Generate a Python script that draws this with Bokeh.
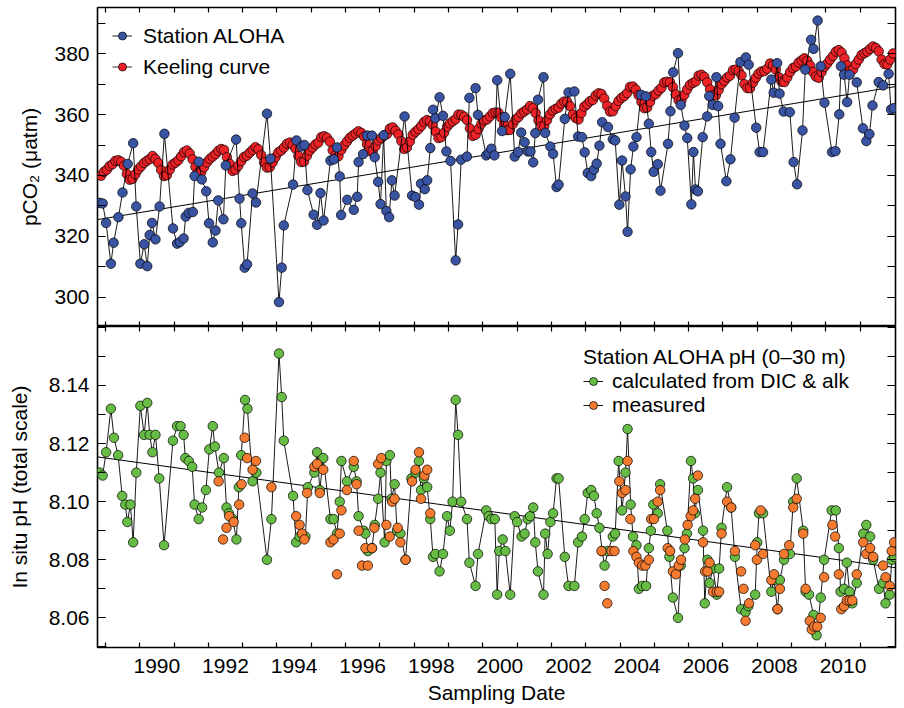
from bokeh.plotting import figure
from bokeh.models import (Range1d, FixedTicker, LinearAxis, Legend, LegendItem,
                          Slope, ColumnDataSource, PrintfTickFormatter)
from bokeh.layouts import column
from bokeh.embed import file_html
from bokeh.resources import INLINE

FONT = "Liberation Sans"
FS = "21px"

# ---------------- axis ticks / labels ----------------
year_ticks = list(range(1989, 2012))
label_years = list(range(1990, 2011, 2))
pco2_label_ticks = [300, 320, 340, 360, 380]
pco2_minor_ticks = [290, 300, 310, 320, 330, 340, 350, 360, 370, 380, 390]
ph_label_ticks = [8.06, 8.08, 8.10, 8.12, 8.14]
ph_minor_ticks = [8.05, 8.06, 8.07, 8.08, 8.09, 8.10, 8.11, 8.12, 8.13, 8.14, 8.15, 8.16]

# ---------------- Station ALOHA pCO2 ----------------
aloha_date = [
    1988.83, 1988.92, 1989.02, 1989.16, 1989.24, 1989.38, 1989.50, 1989.65, 1989.81, 1989.90,
    1990.02, 1990.13, 1990.22, 1990.29, 1990.36, 1990.46, 1990.58, 1990.72, 1990.97,
    1991.09, 1991.17, 1991.28, 1991.34, 1991.43, 1991.55, 1991.60, 1991.72, 1991.81, 1991.94,
    1992.02, 1992.13, 1992.21, 1992.29, 1992.44, 1992.51, 1992.81, 1992.91, 1992.96,
    1993.06, 1993.13, 1993.29, 1993.39, 1993.71, 1993.81,
    1994.06, 1994.14, 1994.20, 1994.47, 1994.57, 1994.72, 1994.80, 1994.89,
    1995.07, 1995.17, 1995.27, 1995.36, 1995.56, 1995.66, 1995.75, 1995.83, 1995.87,
    1996.05, 1996.24, 1996.34, 1996.38, 1996.51, 1996.63, 1996.77, 1996.85, 1996.95,
    1997.02, 1997.11, 1997.19, 1997.27, 1997.35, 1997.43, 1997.72, 1997.94,
    1998.04, 1998.14, 1998.20, 1998.31, 1998.38, 1998.47, 1998.55, 1998.62, 1998.74, 1998.84, 1998.94,
    1999.06, 1999.21, 1999.28, 1999.37, 1999.54, 1999.61, 1999.79, 1999.86,
    2000.10, 2000.17, 2000.25, 2000.34, 2000.42, 2000.56, 2000.64, 2000.80, 2000.93,
    2001.03, 2001.12, 2001.22, 2001.31, 2001.39, 2001.47, 2001.53, 2001.61, 2001.77, 2001.82, 2001.97,
    2002.05, 2002.15, 2002.21, 2002.39, 2002.50, 2002.67, 2002.78, 2002.89, 2002.97,
    2003.06, 2003.16, 2003.24, 2003.32, 2003.40, 2003.48, 2003.65, 2003.79, 2003.86, 2003.98,
    2004.06, 2004.16, 2004.22, 2004.31, 2004.39, 2004.48, 2004.61, 2004.75, 2004.84, 2004.91, 2004.98,
    2005.10, 2005.18, 2005.40, 2005.47, 2005.55, 2005.69, 2005.77, 2005.88, 2005.96,
    2006.08, 2006.14, 2006.20, 2006.27, 2006.41, 2006.54, 2006.60, 2006.70, 2006.81, 2006.86, 2006.93,
    2007.10, 2007.22, 2007.34, 2007.51, 2007.67, 2007.75, 2007.97,
    2008.07, 2008.17, 2008.41, 2008.48, 2008.58, 2008.65, 2008.77, 2008.95,
    2009.06, 2009.16, 2009.32, 2009.40, 2009.57, 2009.64, 2009.76, 2009.85, 2009.96,
    2010.18, 2010.28, 2010.39, 2010.44, 2010.53, 2010.62, 2010.69, 2010.90,
    2011.08, 2011.18, 2011.27, 2011.36, 2011.54, 2011.67, 2011.83, 2011.90, 2011.98,
]
aloha_pco2 = [
    331.0, 330.8, 324.4, 311.0, 317.9, 326.3, 334.4, 343.8, 350.6, 329.8,
    311.0, 317.4, 310.2, 320.4, 324.4, 319.0, 329.8, 353.7, 322.6,
    317.6, 318.1, 319.3, 326.5, 327.7, 328.0, 339.8, 344.5, 338.7, 334.8,
    324.3, 318.0, 321.9, 331.8, 325.6, 343.3, 351.8, 332.4, 324.3,
    309.7, 310.8, 334.1, 331.1, 360.3, 345.5,
    298.4, 309.7, 323.6, 337.0, 351.5, 349.5, 350.0, 335.2,
    327.1, 323.8, 334.2, 325.2, 344.9, 345.3, 349.2, 339.7, 327.0,
    332.0, 328.7, 333.0, 344.4, 347.0, 353.1, 353.1, 346.0, 337.9,
    330.6, 353.2, 328.3, 326.3, 338.4, 333.4, 359.4, 333.4,
    332.9, 330.4, 337.3, 335.5, 338.4, 349.0, 361.6, 358.8, 365.7, 359.6, 347.9,
    344.8, 312.1, 323.9, 345.2, 346.2, 365.5, 368.7, 359.9,
    346.6, 347.3, 348.8, 346.6, 371.3, 354.6, 359.2, 373.4, 346.2,
    347.7, 354.1, 350.9, 347.9, 347.9, 344.3, 353.9, 364.9, 372.3, 354.0, 349.5,
    347.1, 336.2, 337.0, 358.6, 367.3, 367.6, 352.8, 352.6, 347.6,
    340.8, 339.8, 341.9, 343.9, 349.8, 357.5, 355.9, 351.9, 351.5, 330.4,
    344.9, 333.1, 321.5, 342.0, 349.5, 352.6, 366.5, 366.0, 357.0, 347.7, 341.2,
    343.7, 335.0, 350.4, 361.1, 373.9, 380.2, 363.2, 356.4, 352.3,
    330.5, 347.7, 335.4, 334.8, 352.6, 359.4, 366.1, 363.2, 372.3, 362.8, 350.4,
    338.1, 345.3, 359.0, 377.3, 378.8, 376.4, 355.7,
    347.7, 347.7, 371.5, 367.2, 376.9, 366.9, 361.0, 360.8,
    344.4, 337.1, 354.8, 374.8, 384.6, 381.6, 390.9, 375.9, 363.9,
    347.7, 348.0, 360.1, 375.9, 373.1, 364.1, 373.1, 370.6,
    355.5, 351.3, 353.6, 363.0, 370.7, 369.6, 373.4, 361.7, 362.1,
]

# ---------------- Keeling curve (monthly, from Nov 1988) ----------------
keeling_first_year = 1988
keeling_first_month = 11
keeling_pco2 = [
    339.9, 341.2,
    341.9, 343.1, 343.7, 344.8, 345.0, 344.5, 343.2, 340.5, 338.6, 338.9, 340.4, 342.0,
    343.0, 344.1, 344.8, 345.4, 346.4, 345.4, 344.1, 341.8, 339.8, 340.1, 341.9, 343.6,
    344.2, 345.0, 346.3, 347.7, 348.2, 347.2, 345.3, 342.8, 341.0, 341.0, 342.7, 344.3,
    345.4, 346.2, 347.0, 348.1, 348.7, 348.4, 346.0, 343.8, 341.5, 341.9, 343.2, 344.7,
    346.1, 346.5, 347.5, 348.4, 349.3, 348.6, 346.7, 344.3, 342.6, 342.7, 344.3, 346.0,
    347.6, 348.2, 349.2, 350.4, 350.8, 350.1, 348.8, 346.4, 344.4, 344.6, 346.5, 348.2,
    349.2, 350.2, 350.8, 352.6, 352.9, 352.4, 351.1, 348.3, 346.6, 346.3, 348.4, 349.9,
    351.2, 352.4, 353.1, 353.8, 354.5, 354.0, 352.8, 350.3, 348.0, 348.1, 349.6, 351.5,
    352.3, 353.1, 353.6, 355.4, 355.8, 354.7, 353.5, 351.3, 348.7, 349.2, 351.2, 353.4,
    354.4, 355.2, 356.3, 357.6, 358.2, 357.8, 356.6, 354.4, 352.3, 352.6, 354.1, 356.0,
    357.1, 357.8, 358.5, 360.0, 359.9, 359.3, 358.2, 355.5, 353.0, 353.4, 355.3, 357.0,
    358.1, 358.4, 359.4, 360.5, 360.7, 360.6, 359.0, 356.7, 354.9, 355.0, 356.9, 358.4,
    359.2, 360.4, 361.0, 361.7, 362.8, 362.1, 360.5, 358.1, 356.2, 356.3, 358.2, 360.1,
    361.3, 361.9, 362.3, 363.6, 364.3, 364.2, 362.8, 360.0, 358.9, 358.4, 360.5, 362.6,
    363.4, 364.4, 364.8, 366.3, 367.0, 366.8, 365.3, 362.9, 361.0, 361.1, 362.8, 364.5,
    365.5, 366.1, 367.1, 369.1, 369.2, 368.2, 366.4, 364.2, 362.1, 362.3, 364.2, 366.2,
    366.7, 367.9, 368.8, 370.6, 370.8, 370.6, 369.0, 366.6, 364.7, 364.8, 366.5, 368.3,
    369.8, 370.4, 370.9, 372.8, 373.1, 372.4, 370.6, 368.3, 366.4, 366.3, 368.1, 370.0,
    371.1, 372.2, 372.8, 374.6, 374.8, 374.3, 372.9, 370.0, 368.7, 368.7, 370.5, 372.1,
    373.5, 374.2, 374.3, 375.1, 376.8, 376.2, 374.8, 372.3, 370.8, 370.7, 372.2, 374.0,
    375.3, 375.8, 377.1, 377.8, 378.5, 377.7, 376.1, 374.0, 372.5, 372.1, 374.0, 375.7,
    376.8, 378.1, 379.3, 380.7, 381.2, 380.4, 378.5, 376.2, 374.4, 374.8, 376.6, 378.1,
    379.6, 380.2, 380.7, 381.6, 382.4, 381.9, 380.8, 378.1, 376.6, 376.5, 378.1, 380.1,
]
keeling_date = []
_y, _m = keeling_first_year, keeling_first_month
for _ in keeling_pco2:
    keeling_date.append(_y + (_m - 0.5) / 12.0)
    _m += 1
    if _m > 12:
        _m, _y = 1, _y + 1

# ---------------- pH calculated from DIC & alk ----------------
ph_calc_date = [
    1988.83, 1988.92, 1989.02, 1989.16, 1989.25, 1989.37, 1989.49, 1989.58, 1989.64, 1989.73, 1989.81, 1989.90,
    1990.02, 1990.13, 1990.22, 1990.29, 1990.37, 1990.46, 1990.57, 1990.71, 1990.97,
    1991.09, 1991.19, 1991.28, 1991.33, 1991.43, 1991.53, 1991.60, 1991.72, 1991.82, 1991.93,
    1992.03, 1992.13, 1992.19, 1992.31, 1992.45, 1992.53, 1992.60, 1992.71, 1992.82, 1992.89, 1992.96,
    1993.07, 1993.14, 1993.29, 1993.40, 1993.71, 1993.84,
    1994.06, 1994.14, 1994.20, 1994.47, 1994.56, 1994.66, 1994.83, 1994.90,
    1995.09, 1995.17, 1995.25, 1995.35, 1995.56, 1995.65, 1995.75, 1995.83, 1995.88,
    1996.04, 1996.24, 1996.32, 1996.38, 1996.53, 1996.58, 1996.65, 1996.77, 1996.85, 1996.95,
    1997.02, 1997.14, 1997.19, 1997.29, 1997.34, 1997.43, 1997.50, 1997.60, 1997.75, 1997.92,
    1998.04, 1998.14, 1998.20, 1998.28, 1998.38, 1998.47, 1998.55, 1998.62, 1998.74, 1998.84, 1998.96,
    1999.04, 1999.12, 1999.21, 1999.28, 1999.37, 1999.54, 1999.61, 1999.79, 1999.86,
    2000.10, 2000.17, 2000.25, 2000.35, 2000.42, 2000.48, 2000.58, 2000.66, 2000.80, 2000.93,
    2001.00, 2001.13, 2001.22, 2001.31, 2001.38, 2001.47, 2001.53, 2001.61, 2001.77, 2001.82, 2001.89, 2001.97,
    2002.05, 2002.15, 2002.21, 2002.39, 2002.50, 2002.67, 2002.78, 2002.89, 2002.97,
    2003.06, 2003.16, 2003.24, 2003.32, 2003.40, 2003.48, 2003.55, 2003.65, 2003.79, 2003.86, 2003.96,
    2004.06, 2004.16, 2004.22, 2004.31, 2004.38, 2004.48, 2004.55, 2004.65, 2004.76, 2004.84, 2004.90, 2004.97,
    2005.10, 2005.17, 2005.38, 2005.44, 2005.54, 2005.69, 2005.77, 2005.88, 2005.95,
    2006.07, 2006.13, 2006.18, 2006.27, 2006.42, 2006.47, 2006.55, 2006.61, 2006.71, 2006.82, 2006.89, 2006.96,
    2007.12, 2007.24, 2007.35, 2007.53, 2007.66, 2007.74, 2007.94,
    2008.00, 2008.05, 2008.17, 2008.41, 2008.49, 2008.59, 2008.66, 2008.78, 2008.95,
    2009.05, 2009.15, 2009.34, 2009.41, 2009.51, 2009.64, 2009.73, 2009.85, 2009.95,
    2010.17, 2010.29, 2010.38, 2010.43, 2010.53, 2010.61, 2010.69, 2010.77, 2010.90,
    2011.09, 2011.18, 2011.29, 2011.38, 2011.55, 2011.67, 2011.74, 2011.86, 2011.92, 2011.99,
]
ph_calc = [
    8.110, 8.109, 8.117, 8.132, 8.122, 8.116, 8.102, 8.099, 8.093, 8.099, 8.086, 8.110,
    8.133, 8.123, 8.134, 8.123, 8.117, 8.123, 8.108, 8.085, 8.121,
    8.126, 8.126, 8.123, 8.115, 8.114, 8.112, 8.099, 8.094, 8.098, 8.104,
    8.118, 8.126, 8.119, 8.110, 8.115, 8.098, 8.096, 8.094, 8.087, 8.105, 8.116,
    8.135, 8.132, 8.107, 8.110, 8.080, 8.094,
    8.151, 8.136, 8.121, 8.102, 8.086, 8.088, 8.088, 8.105,
    8.110, 8.117, 8.104, 8.115, 8.094, 8.094, 8.089, 8.100, 8.114,
    8.107, 8.112, 8.107, 8.095, 8.090, 8.089, 8.083, 8.084, 8.092, 8.101,
    8.110, 8.086, 8.114, 8.116, 8.101, 8.106, 8.090, 8.089, 8.080, 8.108,
    8.110, 8.114, 8.104, 8.108, 8.105, 8.094, 8.081, 8.082, 8.076, 8.082, 8.095,
    8.090, 8.100, 8.135, 8.123, 8.100, 8.094, 8.079, 8.071, 8.082,
    8.097, 8.095, 8.094, 8.094, 8.068, 8.083, 8.087, 8.083, 8.068, 8.095,
    8.093, 8.088, 8.089, 8.094, 8.095, 8.098, 8.086, 8.076, 8.068, 8.089, 8.082, 8.093,
    8.096, 8.108, 8.108, 8.081, 8.071, 8.071, 8.086, 8.088, 8.094,
    8.103, 8.104, 8.102, 8.096, 8.091, 8.083, 8.078, 8.083, 8.088, 8.089, 8.114,
    8.097, 8.110, 8.125, 8.099, 8.088, 8.085, 8.070, 8.071, 8.071, 8.084, 8.090, 8.099,
    8.096, 8.106, 8.090, 8.081, 8.067, 8.060, 8.078, 8.084, 8.089,
    8.114, 8.108, 8.096, 8.104, 8.090, 8.065, 8.080, 8.072, 8.077, 8.068, 8.077, 8.091,
    8.105, 8.098, 8.081, 8.063, 8.062, 8.064, 8.068,
    8.086, 8.096, 8.096, 8.069, 8.073, 8.063, 8.073, 8.080, 8.082,
    8.100, 8.108, 8.090, 8.069, 8.068, 8.061, 8.054, 8.067, 8.080,
    8.097, 8.097, 8.084, 8.069, 8.070, 8.079, 8.069, 8.065, 8.072,
    8.089, 8.092, 8.088, 8.080, 8.070, 8.072, 8.065, 8.068, 8.080, 8.081,
]

# ---------------- pH measured ----------------
ph_meas_date = [
    1992.30, 1992.43, 1992.53, 1992.61, 1992.74, 1992.90, 1992.97, 1993.06, 1993.13, 1993.29, 1993.39, 1993.84,
    1994.56, 1994.66, 1994.73, 1994.80, 1994.88,
    1995.09, 1995.17, 1995.25, 1995.35, 1995.56, 1995.65, 1995.75, 1995.83, 1995.88,
    1996.04, 1996.24, 1996.32, 1996.38, 1996.48, 1996.58, 1996.65, 1996.77, 1996.84, 1996.95,
    1997.04, 1997.19, 1997.29, 1997.36, 1997.43, 1997.52, 1997.60, 1997.75, 1997.94,
    1998.04, 1998.14, 1998.20, 1998.30, 1998.38, 1998.47,
    2003.46, 2003.55, 2003.63, 2003.75, 2003.84, 2003.98,
    2004.06, 2004.16, 2004.22, 2004.30, 2004.39, 2004.48, 2004.55, 2004.65, 2004.74, 2004.84, 2004.91, 2004.99,
    2005.10, 2005.17, 2005.39, 2005.46, 2005.54, 2005.63, 2005.71, 2005.78, 2005.89, 2005.97,
    2006.06, 2006.13, 2006.19, 2006.27, 2006.42, 2006.48, 2006.55, 2006.61, 2006.71, 2006.82, 2006.89, 2006.96,
    2007.12, 2007.24, 2007.35, 2007.53, 2007.60, 2007.66, 2007.76, 2007.94, 2007.99,
    2008.10, 2008.17, 2008.41, 2008.49, 2008.59, 2008.66, 2008.78, 2008.93,
    2009.05, 2009.15, 2009.34, 2009.41, 2009.53, 2009.59, 2009.66, 2009.75, 2009.85, 2009.95,
    2010.19, 2010.27, 2010.38, 2010.45, 2010.53, 2010.61, 2010.69, 2010.77, 2010.90,
    2011.09, 2011.18, 2011.29, 2011.38, 2011.67, 2011.74, 2011.86, 2011.92, 2011.99,
]
ph_meas = [
    8.107, 8.087, 8.091, 8.095, 8.093, 8.099, 8.106, 8.122, 8.115, 8.111, 8.114, 8.105,
    8.095, 8.092, 8.089, 8.087, 8.103,
    8.112, 8.113, 8.103, 8.111, 8.086, 8.087, 8.075, 8.089, 8.097,
    8.104, 8.114, 8.106, 8.090, 8.078, 8.084, 8.078, 8.084, 8.091, 8.113,
    8.115, 8.092, 8.088, 8.100, 8.101, 8.091, 8.086, 8.080, 8.107,
    8.111, 8.117, 8.101, 8.109, 8.111, 8.096,
    8.083, 8.071, 8.065, 8.083, 8.083, 8.107,
    8.103, 8.104, 8.114, 8.094, 8.083, 8.081, 8.079, 8.078, 8.078, 8.080, 8.094, 8.094,
    8.100, 8.104, 8.084, 8.083, 8.076, 8.075, 8.078, 8.080, 8.087, 8.092,
    8.095, 8.097, 8.101, 8.109, 8.086, 8.076, 8.076, 8.079, 8.069, 8.069, 8.069, 8.089,
    8.100, 8.098, 8.083, 8.076, 8.070, 8.059, 8.065, 8.085, 8.080,
    8.097, 8.082, 8.073, 8.075, 8.063, 8.070, 8.082, 8.085,
    8.098, 8.101, 8.089, 8.070, 8.059, 8.056, 8.057, 8.057, 8.060, 8.074,
    8.092, 8.088, 8.075, 8.063, 8.064, 8.066, 8.066, 8.066, 8.075,
    8.086, 8.082, 8.084, 8.081, 8.078, 8.074, 8.071, 8.083, 8.086,
]

# ---------------- linear trends (value at 2000.0, slope per year) ----------------
pco2_trend = (346.6, 1.88)
ph_trend = (8.097, -0.00164)

# ---------------- styling constants ----------------
C_BLUE = "#3A54A4"
C_RED = "#EC2227"
C_GREEN = "#67BC45"
C_ORANGE = "#F47A30"
MSIZE = 9.5

x_range = Range1d(1988.77, 2012.03)


def style_fig(p, yticks, yminor, yfmt, show_xlabels, ylabel, label_standoff):
    p.xgrid.visible = False
    p.ygrid.visible = False
    p.outline_line_color = "black"
    p.outline_line_width = 1.6
    p.background_fill_color = "white"
    p.border_fill_color = "white"

    xt = FixedTicker(ticks=[y + 0.5 for y in label_years], minor_ticks=year_ticks)
    yt = FixedTicker(ticks=yticks, minor_ticks=yminor)

    # bottom x axis
    xa = p.xaxis[0]
    xa.ticker = xt
    xa.axis_line_color = None
    xa.major_tick_in = 0
    xa.major_tick_out = 0
    xa.minor_tick_in = 5
    xa.minor_tick_out = 0
    xa.minor_tick_line_color = "black"
    xa.minor_tick_line_width = 1.2
    if show_xlabels:
        xa.major_label_overrides = {y + 0.5: str(y) for y in label_years}
        xa.major_label_text_font = FONT
        xa.major_label_text_font_size = FS
        xa.major_label_text_color = "black"
        xa.major_label_standoff = 11
        xa.axis_label = "Sampling Date"
        xa.axis_label_text_font = FONT
        xa.axis_label_text_font_size = FS
        xa.axis_label_text_font_style = "normal"
        xa.axis_label_text_color = "black"
        xa.axis_label_standoff = 5
    else:
        xa.major_label_text_font_size = "0px"
        xa.major_label_standoff = 0
        xa.major_label_overrides = {y + 0.5: "" for y in label_years}

    # left y axis
    ya = p.yaxis[0]
    ya.ticker = yt
    ya.formatter = PrintfTickFormatter(format=yfmt)
    ya.axis_line_color = None
    ya.major_tick_in = 8
    ya.major_tick_out = 0
    ya.minor_tick_in = 8
    ya.minor_tick_out = 0
    ya.major_tick_line_width = 1.2
    ya.minor_tick_line_width = 1.2
    ya.major_label_text_font = FONT
    ya.major_label_text_font_size = FS
    ya.major_label_text_color = "black"
    ya.major_label_standoff = 8
    ya.axis_label = ylabel
    ya.axis_label_text_font = FONT
    ya.axis_label_text_font_size = FS
    ya.axis_label_text_font_style = "normal"
    ya.axis_label_text_color = "black"
    ya.axis_label_standoff = label_standoff

    # mirrored tick-only axes (top and right)
    top = LinearAxis(ticker=FixedTicker(ticks=[y + 0.5 for y in label_years], minor_ticks=year_ticks),
                     axis_line_color=None, major_tick_in=0, major_tick_out=0,
                     minor_tick_in=5, minor_tick_out=0, minor_tick_line_width=1.2,
                     major_label_text_font_size="0px", major_label_standoff=0,
                     major_label_overrides={y + 0.5: "" for y in label_years})
    p.add_layout(top, "above")
    right = LinearAxis(ticker=FixedTicker(ticks=yticks, minor_ticks=yminor),
                       axis_line_color=None, major_tick_in=8, major_tick_out=0,
                       minor_tick_in=8, minor_tick_out=0,
                       major_tick_line_width=1.2, minor_tick_line_width=1.2,
                       major_label_text_font_size="0px", major_label_standoff=0,
                       major_label_overrides={t: "" for t in yticks})
    p.add_layout(right, "right")


# ================= top panel: pCO2 =================
p1 = figure(frame_width=798, frame_height=319, x_range=x_range,
            y_range=Range1d(290.37, 395.2), output_backend="svg",
            toolbar_location=None, min_border_left=97, min_border_right=3,
            min_border_top=7, min_border_bottom=0)
style_fig(p1, pco2_label_ticks, pco2_minor_ticks, "%d", False, "pCO₂ (μatm)", 10)

p1.add_layout(Slope(gradient=pco2_trend[1],
                    y_intercept=pco2_trend[0] - pco2_trend[1] * 2000.0,
                    line_color="black", line_width=1, level="underlay"))

src_k = ColumnDataSource(dict(x=keeling_date, y=keeling_pco2))
src_a = ColumnDataSource(dict(x=aloha_date, y=aloha_pco2))
k_line = p1.line("x", "y", source=src_k, line_color="black", line_width=0.8)
k_pts = p1.scatter("x", "y", source=src_k, marker="circle", size=MSIZE,
                   fill_color=C_RED, line_color="black", line_width=0.7)
a_line = p1.line("x", "y", source=src_a, line_color="black", line_width=0.9)
a_pts = p1.scatter("x", "y", source=src_a, marker="circle", size=MSIZE,
                   fill_color=C_BLUE, line_color="black", line_width=0.7)

leg1 = Legend(items=[LegendItem(label="Station ALOHA", renderers=[a_line, a_pts]),
                     LegendItem(label="Keeling curve", renderers=[k_line, k_pts])],
              location=(15, 247), margin=0, padding=6, spacing=6,
              glyph_width=20, glyph_height=25, label_height=25, label_standoff=11,
              label_text_font=FONT, label_text_font_size=FS, label_text_color="black",
              border_line_color=None, background_fill_alpha=0)
p1.add_layout(leg1)

# ================= bottom panel: pH =================
p2 = figure(frame_width=798, frame_height=321, x_range=x_range,
            y_range=Range1d(8.0498, 8.1603), output_backend="svg",
            toolbar_location=None, min_border_left=97, min_border_right=3,
            min_border_top=0, min_border_bottom=0)
style_fig(p2, ph_label_ticks, ph_minor_ticks, "%.2f", True, "In situ pH (total scale)", 15)

p2.add_layout(Slope(gradient=ph_trend[1],
                    y_intercept=ph_trend[0] - ph_trend[1] * 2000.0,
                    line_color="black", line_width=1, level="underlay"))

src_c = ColumnDataSource(dict(x=ph_calc_date, y=ph_calc))
src_m = ColumnDataSource(dict(x=ph_meas_date, y=ph_meas))
c_line = p2.line("x", "y", source=src_c, line_color="black", line_width=0.9)
c_pts = p2.scatter("x", "y", source=src_c, marker="circle", size=MSIZE,
                   fill_color=C_GREEN, line_color="black", line_width=0.7)
m_pts = p2.scatter("x", "y", source=src_m, marker="circle", size=MSIZE,
                   fill_color=C_ORANGE, line_color="black", line_width=0.7)

leg2 = Legend(items=[LegendItem(label="calculated from DIC & alk", renderers=[c_line, c_pts]),
                     LegendItem(label="measured", renderers=[c_line, m_pts])],
              title="Station ALOHA pH (0–30 m)",
              location=(486, 230), margin=0, padding=6, spacing=0,
              glyph_width=20, glyph_height=24, label_height=24, label_standoff=9,
              label_text_font=FONT, label_text_font_size=FS, label_text_color="black",
              title_text_font=FONT, title_text_font_size=FS, title_text_font_style="normal",
              title_text_color="black", title_standoff=0,
              border_line_color=None, background_fill_alpha=0)
p2.add_layout(leg2)

layout = column(p1, p2, spacing=0)

with open("out.html", "w") as f:
    f.write(file_html(layout, INLINE))
